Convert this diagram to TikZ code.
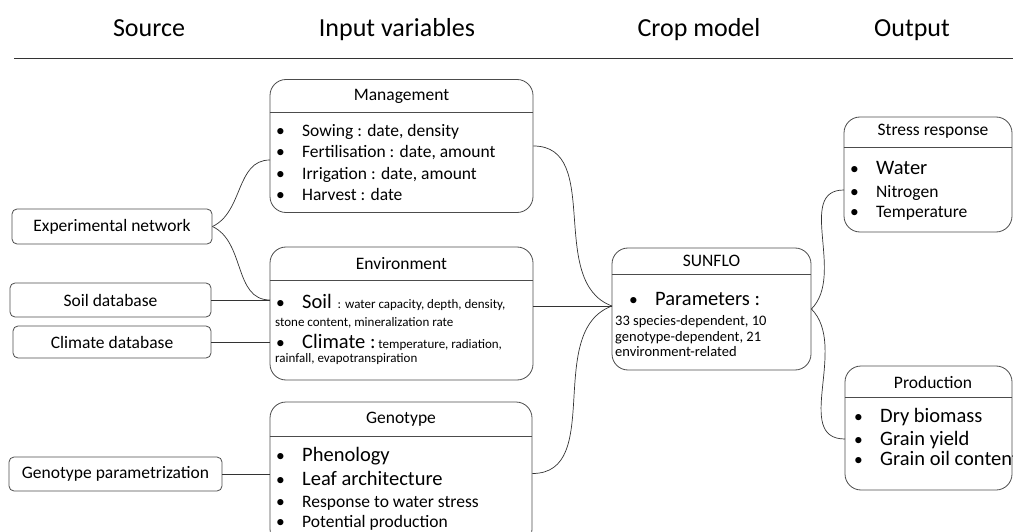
\documentclass[tikz,border=0pt]{standalone}
\usepackage{fontspec}
\setmainfont{Carlito}
\newcommand{\hdsize}{\fontsize{26}{30}\selectfont}
\newcommand{\txtsize}{\fontsize{17.5}{21}\selectfont}
\newcommand{\bigsize}{\fontsize{20.5}{24}\selectfont}
\newcommand{\smsize}{\fontsize{13}{16}\selectfont}
\newcommand{\parsize}{\fontsize{14.5}{17}\selectfont}
\newcommand{\blt}{\makebox[26pt][l]{\textbullet}}

\begin{document}
\begin{tikzpicture}[x=1pt,y=1pt]
        \tikzstyle{every node}+=[inner sep=0pt]
        \tikzstyle{srcbox}=[draw=black!70, line width=0.8pt, rounded corners=5pt, font=\txtsize]
        \tikzstyle{varbox}=[draw=black!70, line width=0.8pt, rounded corners=16pt]
        \tikzstyle{divider}=[black!70, line width=0.8pt]
        \tikzstyle{link}=[black!80, line width=0.7pt]
        \tikzstyle{bline}=[anchor=base west, font=\txtsize]
        \tikzstyle{colhead}=[anchor=base, font=\hdsize]
        \useasboundingbox (0,0) rectangle (1013,-532);
        % column headers
        \node [colhead] (hsrc) at (149,-37) {Source};
        \node [colhead] (hinp) at (397,-37) {Input variables};
        \node [colhead] (hcrop) at (699,-37) {Crop model};
        \node [colhead] (hout) at (912,-37) {Output};
        \draw [black!80, line width=0.8pt] (14,-58) -- (1013,-58);
        % sources
        \node [srcbox, minimum width=200pt, minimum height=35pt] (expnet) at (112,-226.5) {Experimental network};
        \node [srcbox, minimum width=201pt, minimum height=34pt] (soildb) at (110.5,-300) {Soil database};
        \node [srcbox, minimum width=198pt, minimum height=32pt] (climdb) at (112,-342) {Climate database};
        \node [srcbox, minimum width=213pt, minimum height=34pt] (genpar) at (115.5,-474) {Genotype parametrization};
        % management
        \node [varbox, minimum width=263pt, minimum height=133pt] (mgmt) at (401.5,-146) {};
        \draw [divider] ([yshift=-33pt]mgmt.north west) -- ([yshift=-33pt]mgmt.north east);
        \node [font=\txtsize] (mgmtT) at (401.5,-96) {Management};
        \node [bline] (mg1) at (276,-137) {\blt Sowing : date, density};
        \node [bline] (mg2) at (276,-158) {\blt Fertilisation : date, amount};
        \node [bline] (mg3) at (276,-179.5) {\blt Irrigation : date, amount};
        \node [bline] (mg4) at (276,-200.5) {\blt Harvest : date};
        % environment
        \node [varbox, minimum width=263pt, minimum height=133pt] (env) at (401.5,-313.5) {};
        \draw [divider] ([yshift=-34pt]env.north west) -- ([yshift=-34pt]env.north east);
        \node [font=\txtsize] (envT) at (401.5,-264) {Environment};
        \node [bline] (en1) at (276,-308) {\blt\bigsize Soil\smsize\ \ : water capacity, depth, density,};
        \node [bline] (en2) at (275,-326) {\smsize stone content, mineralization rate};
        \node [bline] (en3) at (276,-348) {\blt\bigsize Climate :\smsize\ temperature, radiation,};
        \node [bline] (en4) at (275,-362) {\smsize rainfall, evapotranspiration};
        % genotype
        \node [varbox, minimum width=262pt, minimum height=143pt] (geno) at (401,-473.5) {};
        \draw [divider] ([yshift=-35pt]geno.north west) -- ([yshift=-35pt]geno.north east);
        \node [font=\txtsize] (genoT) at (401,-419) {Genotype};
        \node [bline] (ge1) at (276,-461) {\blt\bigsize Phenology};
        \node [bline] (ge2) at (276,-485) {\blt\bigsize Leaf architecture};
        \node [bline] (ge3) at (276,-507.5) {\blt Response to water stress};
        \node [bline] (ge4) at (276,-527.5) {\blt Potential production};
        % crop model
        \node [varbox, minimum width=199pt, minimum height=122pt] (sunflo) at (711.5,-309) {};
        \draw [divider] ([yshift=-27pt]sunflo.north west) -- ([yshift=-27pt]sunflo.north east);
        \node [font=\txtsize] (sunfloT) at (711.5,-261) {SUNFLO};
        \node [bline] (su1) at (629,-305.5) {\blt\bigsize Parameters :};
        \node [bline] (su2) at (615,-325) {\parsize 33 species-dependent, 10};
        \node [bline] (su3) at (615,-341) {\parsize genotype-dependent,\ 21};
        \node [bline] (su4) at (615,-356) {\parsize environment-related};
        % outputs
        \node [varbox, minimum width=168pt, minimum height=115pt] (stress) at (928,-174.5) {};
        \draw [divider] ([yshift=-31pt]stress.north west) -- ([yshift=-31pt]stress.north east);
        \node [font=\txtsize] (stressT) at (933,-131) {Stress response};
        \node [bline] (st1) at (850,-175) {\blt\bigsize Water};
        \node [bline] (st2) at (850,-197.5) {\blt Nitrogen};
        \node [bline] (st3) at (850,-217.5) {\blt Temperature};
        \node [varbox, minimum width=167pt, minimum height=124pt] (prod) at (928.5,-428) {};
        \draw [divider] ([yshift=-32pt]prod.north west) -- ([yshift=-32pt]prod.north east);
        \node [font=\txtsize] (prodT) at (933,-382) {Production};
        \node [bline] (pr1) at (854,-422) {\blt\bigsize Dry biomass};
        \node [bline] (pr2) at (854,-445) {\blt\bigsize Grain yield};
        \node [bline] (pr3) at (854,-465) {\blt\bigsize Grain oil content};
        % connectors
        \coordinate (mgmtin) at (270,-160);
        \coordinate (soilin) at (270,-300);
        \coordinate (sunin) at (612,-306);
        \coordinate (stressin) at (844,-190);
        \coordinate (prodin) at (845,-439);
        \draw [link] (expnet.east) to[out=25,in=180] (mgmtin);
        \draw [link] (expnet.east) to[out=-25,in=180] (soilin);
        \draw [link] (soildb.east) -- (soilin);
        \draw [link] (climdb.east) -- (climdb.east -| env.west);
        \draw [link] (genpar.east) -- (genpar.east -| geno.west);
        \draw [link] (mgmt.east) to[out=0,in=160] (sunin);
        \draw [link] (env.east |- sunin) -- (sunin);
        \draw [link] (geno.east) to[out=0,in=200] (sunin);
        \draw [link] (sunflo.east) to[out=45,in=180] (stressin);
        \draw [link] (sunflo.east) to[out=-45,in=180] (prodin);
\end{tikzpicture}
\end{document}
